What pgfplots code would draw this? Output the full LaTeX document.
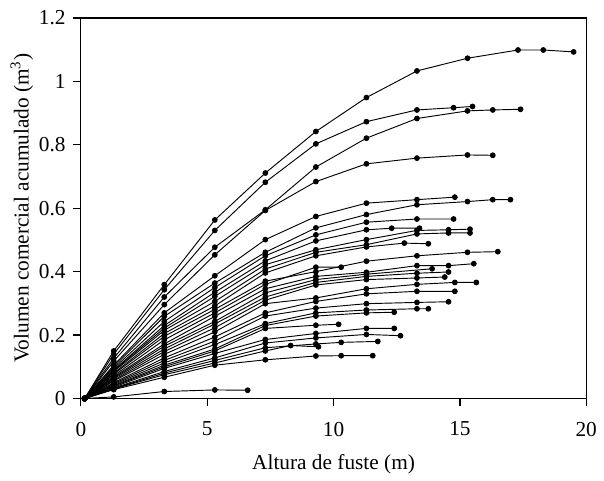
\documentclass[border=0pt]{standalone}
\usepackage{fontspec}
\setmainfont{Liberation Serif}
\usepackage{pgfplots}
\pgfplotsset{compat=1.18}
\usetikzlibrary{calc}
\pgfplotscreateplotcyclelist{mono}{black,solid,line width=0.7pt,mark=*,mark size=1.8pt,mark options={solid,fill=black}\\}

\begin{document}
\fontsize{16}{19}\selectfont
\begin{tikzpicture}
\begin{axis}[
    name=ax,
    width=379.5pt, height=285.75pt,
    scale only axis,
    xmin=0, xmax=20, ymin=0, ymax=1.2,
    xtick={0,5,10,15,20},
    ytick={0,0.2,0.4,0.6,0.8,1,1.2},
    tick pos=left,
    tick align=outside,
    major tick length=6pt,
    axis line style={black, line width=0.8pt},
    major tick style={draw=black, line width=0.9pt},
    /pgf/number format/assume math mode=true,
    /pgf/number format/fixed,
    /pgf/number format/precision=1,
    ticklabel style={font=\fontsize{16}{19}\selectfont},
    xticklabel style={yshift=-6pt},
    label style={font=\fontsize{16}{19}\selectfont},
    xlabel={Altura de fuste (m)},
    ylabel={Volumen comercial acumulado (m\textsuperscript{3})},
    xlabel style={at={(axis description cs:0.5,-0.172)}, anchor=center},
    ylabel style={at={(axis description cs:-0.117,0.5)}, anchor=center},
    cycle list name=mono,
    clip=false,
]
% C1
\addplot coordinates {(0.15,0)(1.3,0.150)(3.3,0.359)(5.3,0.563)(7.3,0.711)(9.3,0.842)(11.3,0.949)(13.3,1.033)(15.3,1.073)(17.3,1.099)(18.3,1.099)(19.5,1.093)};
% C2
\addplot coordinates {(0.15,0)(1.3,0.140)(3.3,0.343)(5.3,0.530)(7.3,0.682)(9.3,0.803)(11.3,0.873)(13.3,0.910)(14.75,0.917)(15.5,0.921)};
% C3
\addplot coordinates {(0.15,0)(1.3,0.127)(3.3,0.320)(5.3,0.477)(7.3,0.595)(9.3,0.730)(11.3,0.821)(13.3,0.883)(15.3,0.907)(16.3,0.910)(17.4,0.912)};
% C4
\addplot coordinates {(0.15,0)(1.3,0.118)(3.3,0.296)(5.3,0.453)(7.3,0.593)(9.3,0.684)(11.3,0.740)(13.3,0.758)(15.3,0.768)(16.3,0.767)};
% C5
\addplot coordinates {(0.15,0)(1.3,0.105)(3.3,0.270)(5.3,0.387)(7.3,0.501)(9.3,0.574)(11.3,0.616)(13.3,0.627)(14.8,0.635)};
% C6
\addplot coordinates {(0.15,0)(1.3,0.100)(3.3,0.259)(5.3,0.364)(7.3,0.461)(9.3,0.538)(11.3,0.580)(13.3,0.611)(15.3,0.621)(16.3,0.627)(17.0,0.627)};
% C7
\addplot coordinates {(0.15,0)(1.3,0.095)(3.3,0.243)(5.3,0.350)(7.3,0.450)(9.3,0.516)(11.3,0.556)(13.3,0.566)(14.75,0.566)};
% C8
\addplot coordinates {(0.15,0)(1.3,0.090)(3.3,0.230)(5.3,0.335)(7.3,0.434)(9.3,0.497)(11.3,0.532)(12.3,0.537)(13.4,0.537)};
% C9
\addplot coordinates {(0.15,0)(1.3,0.088)(3.3,0.222)(5.3,0.322)(7.3,0.422)(9.3,0.469)(11.3,0.501)(13.3,0.530)(14.55,0.532)(15.4,0.534)};
% C10
\addplot coordinates {(0.15,0)(1.3,0.085)(3.3,0.215)(5.3,0.306)(7.3,0.408)(9.3,0.461)(11.3,0.485)(13.3,0.519)(14.55,0.522)(15.4,0.522)};
% C11
\addplot coordinates {(0.15,0)(1.3,0.080)(3.3,0.205)(5.3,0.292)(7.3,0.396)(9.3,0.450)(11.3,0.478)(12.8,0.490)(13.75,0.488)};
% C12
\addplot coordinates {(0.15,0)(1.3,0.077)(3.3,0.196)(5.3,0.281)(7.3,0.370)(9.3,0.400)(11.3,0.433)(13.3,0.450)(15.3,0.461)(16.5,0.463)};
% C13
\addplot coordinates {(0.15,0)(1.3,0.072)(3.3,0.185)(5.3,0.270)(7.3,0.360)(9.3,0.414)(10.3,0.414)};
% C14
\addplot coordinates {(0.15,0)(1.3,0.068)(3.3,0.172)(5.3,0.259)(7.3,0.346)(9.3,0.385)(11.3,0.398)(13.3,0.419)(14.55,0.419)(15.55,0.425)};
% C15
\addplot coordinates {(0.15,0)(1.3,0.065)(3.3,0.165)(5.3,0.243)(7.3,0.333)(9.3,0.375)(11.3,0.392)(13.9,0.409)};
% C16
\addplot coordinates {(0.15,0)(1.3,0.062)(3.3,0.156)(5.3,0.235)(7.3,0.320)(9.3,0.366)(11.3,0.385)(13.3,0.395)(14.55,0.399)};
% C17
\addplot coordinates {(0.15,0)(1.3,0.058)(3.3,0.148)(5.3,0.223)(7.3,0.310)(9.3,0.358)(11.3,0.375)(13.3,0.380)(14.4,0.383)};
% C18
\addplot coordinates {(0.15,0)(1.3,0.055)(3.3,0.139)(5.3,0.210)(7.3,0.299)(9.3,0.317)(11.3,0.346)(13.3,0.360)(14.8,0.366)(15.65,0.366)};
% C19
\addplot coordinates {(0.15,0)(1.3,0.050)(3.3,0.128)(5.3,0.194)(7.3,0.270)(9.3,0.306)(11.3,0.330)(13.3,0.338)(14.8,0.338)};
% C20
\addplot coordinates {(0.15,0)(1.3,0.047)(3.3,0.120)(5.3,0.181)(7.3,0.260)(9.3,0.285)(11.3,0.299)(13.3,0.303)(14.55,0.305)};
% C21
\addplot coordinates {(0.15,0)(1.3,0.044)(3.3,0.112)(5.3,0.170)(7.3,0.236)(9.3,0.270)(11.3,0.279)(13.3,0.283)(13.75,0.283)};
% C22
\addplot coordinates {(0.15,0)(1.3,0.041)(3.3,0.105)(5.3,0.156)(7.3,0.230)(9.3,0.260)(11.3,0.270)(12.4,0.272)};
% C23
\addplot coordinates {(0.15,0)(1.3,0.039)(3.3,0.100)(5.3,0.150)(7.3,0.221)(9.3,0.231)(10.2,0.234)};
% C24
\addplot coordinates {(0.15,0)(1.3,0.036)(3.3,0.095)(5.3,0.142)(7.3,0.186)(9.3,0.205)(11.3,0.221)(12.4,0.221)};
% C25
\addplot coordinates {(0.15,0)(1.3,0.033)(3.3,0.085)(5.3,0.128)(7.3,0.175)(9.3,0.191)(11.3,0.202)(12.65,0.198)};
% C26
\addplot coordinates {(0.15,0)(1.3,0.031)(3.3,0.080)(5.3,0.120)(7.3,0.160)(9.3,0.172)(10.3,0.177)(11.75,0.180)};
% C27
\addplot coordinates {(0.15,0)(1.3,0.030)(3.3,0.075)(5.3,0.112)(7.3,0.150)(8.3,0.167)(9.4,0.163)};
% C28
\addplot coordinates {(0.15,0)(1.3,0.028)(3.3,0.067)(5.3,0.105)(7.3,0.122)(9.3,0.134)(10.3,0.135)(11.55,0.135)};
% C29
\addplot coordinates {(0.15,0)(1.3,0.005)(3.3,0.022)(5.3,0.027)(6.6,0.026)};
\end{axis}
\path ($(ax.south west)+(-60.75pt,-56.25pt)$) rectangle ($(ax.north east)+(12.75pt,13.5pt)$);
\end{tikzpicture}
\end{document}
